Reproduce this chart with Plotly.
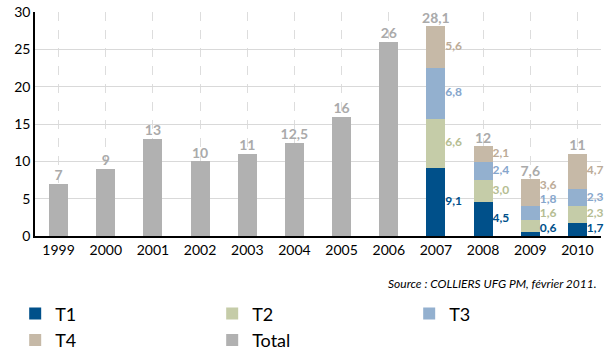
import plotly.graph_objects as go

years = ["1999", "2000", "2001", "2002", "2003", "2004", "2005", "2006", "2007", "2008", "2009", "2010"]
total = [7, 9, 13, 10, 11, 12.5, 16, 26, 28.1, 12, 7.6, 11]
total_bar = [7, 9, 13, 10, 11, 12.5, 16, 26, None, None, None, None]
t1 = [None] * 8 + [9.1, 4.5, 0.6, 1.7]
t2 = [None] * 8 + [6.6, 3.0, 1.6, 2.3]
t3 = [None] * 8 + [6.8, 2.4, 1.8, 2.3]
t4 = [None] * 8 + [5.6, 2.1, 3.6, 4.7]

FONT = "Lato, 'Open Sans', sans-serif"
series = [
    ("T1", t1, "#00508a", "#00508a"),
    ("T2", t2, "#c5cca8", "#b5bd92"),
    ("T3", t3, "#93b0cf", "#86a6cc"),
    ("T4", t4, "#c6b9a7", "#bcab97"),
]
BAR_W = 0.4
x = list(range(len(years)))


def fmt_total(v):
    if abs(v - round(v)) < 1e-9:
        return str(int(round(v)))
    return f"{v:.1f}".replace(".", ",")


def fmt_seg(v):
    return f"{v:.1f}".replace(".", ",")


fig = go.Figure()
for name, vals, col, _ in series:
    fig.add_trace(go.Bar(x=x, y=vals, name=name, marker=dict(color=col, line=dict(width=0)),
                         width=BAR_W, hoverinfo="skip"))
fig.add_trace(go.Bar(x=x, y=total_bar, name="Total", marker=dict(color="#b1b1b1", line=dict(width=0)),
                     width=BAR_W, hoverinfo="skip"))

# segment labels at segment centres, spread apart when crowded
n = len(years)
label_pos = {s[0]: [None] * n for s in series}
for i in range(n):
    base = 0.0
    prev = None
    for name, vals, _, _ in series:
        v = vals[i]
        if v is None:
            continue
        c = base + v / 2
        if prev is None:
            c = max(c, 1.0)
        else:
            c = max(c, prev + 1.9)
        label_pos[name][i] = c
        prev = c
        base += v

for name, vals, _, tcol in series:
    xs, ys, ts = [], [], []
    for i in range(n):
        if vals[i] is not None:
            xs.append(i + BAR_W / 2)
            ys.append(label_pos[name][i])
            ts.append(fmt_seg(vals[i]))
    fig.add_trace(go.Scatter(x=xs, y=ys, mode="text", text=ts, textposition="middle right",
                             textfont=dict(family=FONT, size=12, color=tcol, weight="bold"),
                             showlegend=False, hoverinfo="skip", cliponaxis=False))

fig.add_trace(go.Scatter(x=x, y=total, mode="text", text=[fmt_total(v) for v in total],
                         textposition="top center",
                         textfont=dict(family=FONT, size=14, color="#aaaaaa", weight="bold"),
                         showlegend=False, hoverinfo="skip", cliponaxis=False))

fig.update_layout(
    width=611, height=353,
    margin=dict(l=35, r=10, t=12, b=117, autoexpand=False),
    barmode="stack",
    plot_bgcolor="white", paper_bgcolor="white",
    font=dict(family=FONT, color="black"),
    xaxis=dict(range=[-0.5, 11.5], tickmode="array", tickvals=x, ticktext=years,
               showgrid=True, gridcolor="#dddddd", griddash="dash", gridwidth=1,
               showline=True, linecolor="black", linewidth=1.5, ticks="",
               tickfont=dict(size=14, color="black"), zeroline=False),
    yaxis=dict(range=[0, 30], tickvals=[0, 5, 10, 15, 20, 25, 30],
               showgrid=True, gridcolor="#d9d9d9", gridwidth=1,
               showline=True, linecolor="black", linewidth=1.5, ticks="",
               tickfont=dict(size=14, color="black"), zeroline=False),
    legend=dict(orientation="h", x=-0.035, y=-0.265, xanchor="left", yanchor="top",
                entrywidth=152, entrywidthmode="pixels", tracegroupgap=0,
                font=dict(size=18, color="black", family=FONT), traceorder="normal"),
    annotations=[dict(text="<i>Source : COLLIERS UFG PM, février 2011.</i>", xref="paper", yref="paper",
                      x=0.995, y=-0.21, xanchor="right", yanchor="middle", showarrow=False,
                      font=dict(size=12, color="black", family=FONT))],
)

fig.write_html("out.html")
